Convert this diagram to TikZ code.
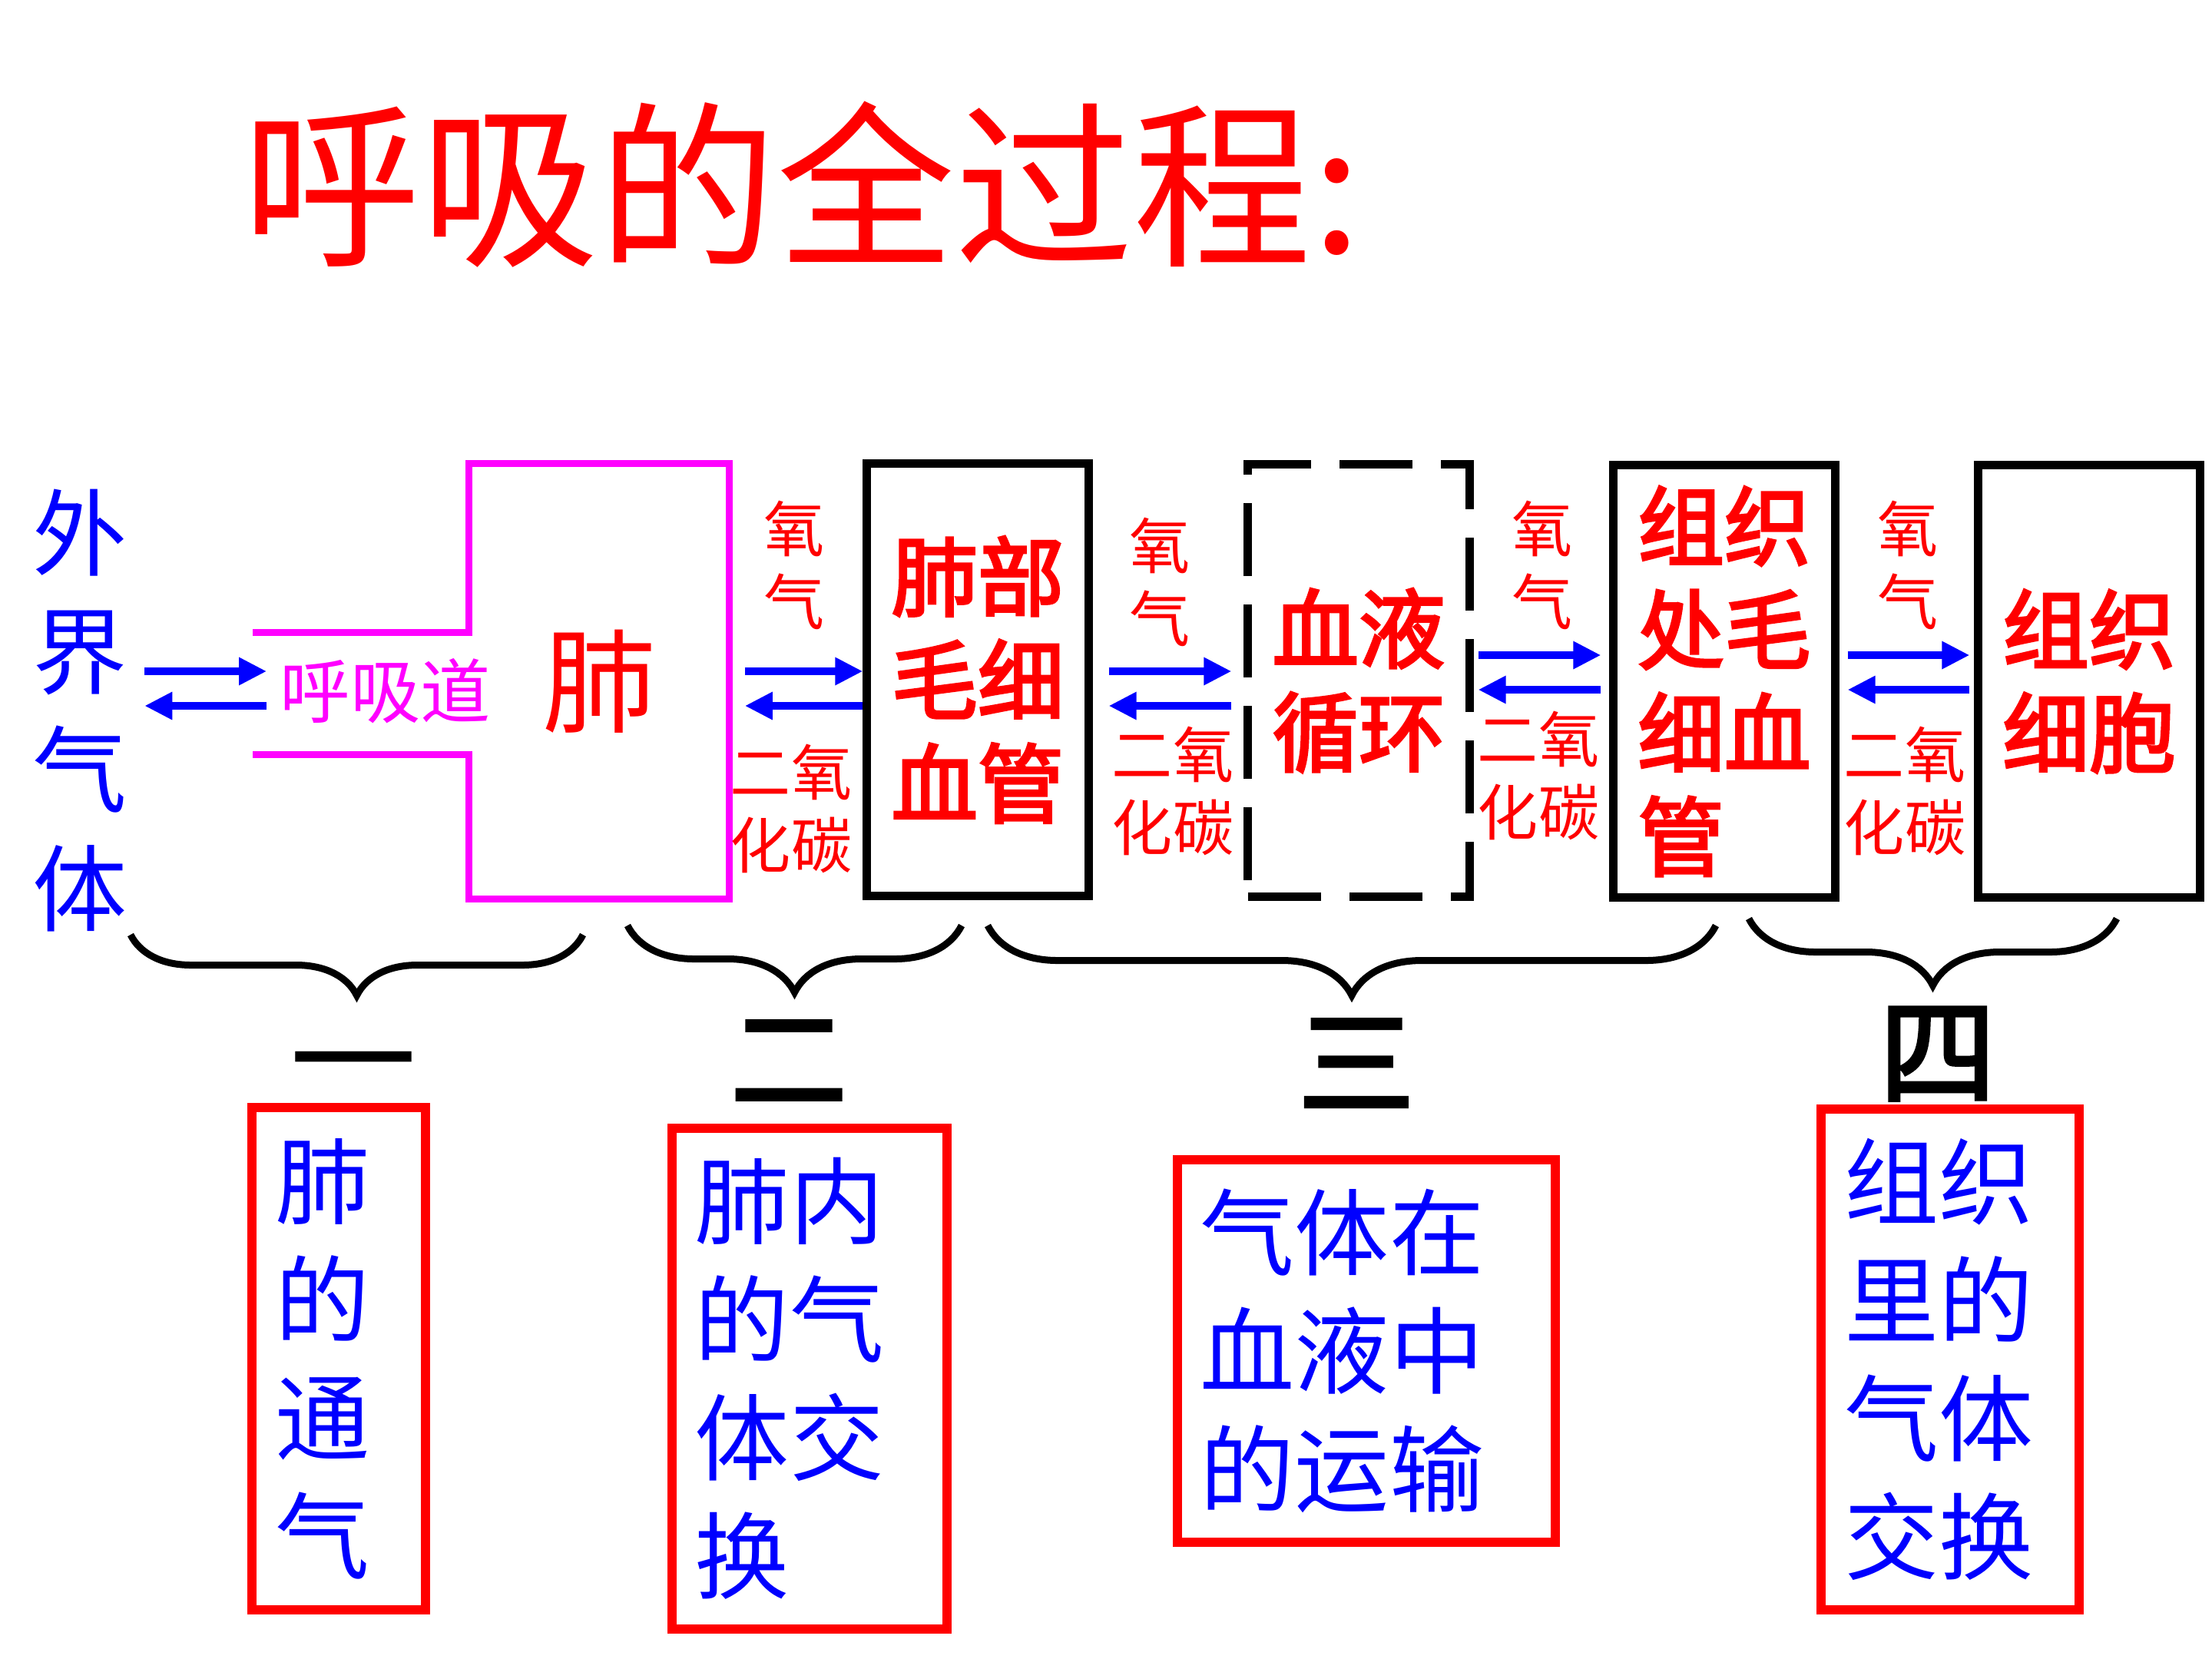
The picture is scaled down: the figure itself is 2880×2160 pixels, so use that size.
\documentclass[tikz,border=0pt]{standalone}
\usepackage{fontspec}
\setmainfont{Noto Sans CJK SC}
\newfontfamily\heavyfont{Noto Sans CJK SC}[FakeBold=3]
\usetikzlibrary{arrows.meta, calc, decorations.pathreplacing}
\definecolor{airpink}{RGB}{255,0,255}
\definecolor{gasblue}{RGB}{0,0,255}
\definecolor{labelred}{RGB}{255,0,0}

\begin{document}
\begin{tikzpicture}[
		x=0.01cm, y=-0.01cm,
		every node/.style={inner sep=0pt},
		heading/.style={text=labelred, font=\fontsize{66}{70}\selectfont},
		blue text/.style={text=gasblue, align=left, font=\fontsize{35}{43.8}\selectfont},
		gas label/.style={text=labelred, align=center, font=\fontsize{22.5}{27}\selectfont},
		cap box/.style={draw, line width=1.1mm, minimum width=2.88cm, minimum height=5.62cm, align=left, text=labelred, font=\heavyfont\fontsize{32}{38.3}\selectfont},
		blood box/.style={cap box, dash pattern=on 9.5mm off 3.7mm},
		gas arrow/.style={gasblue, line width=1.07mm, -{Triangle[length=3.6mm, width=3.4mm]}},
		airway/.style={airpink, line width=0.9mm},
		curly brace/.style={decorate, line width=0.9mm, decoration={brace, amplitude=#1}},
		stage number/.style={font=\heavyfont\fontsize{43}{43}\selectfont},
		stage box/.style={draw=labelred, line width=1.2mm, blue text, inner xsep=3mm}
		]
	
	\useasboundingbox (0,0) rectangle (2880,2160);
	
	% Heading
	\node[heading] (heading) at (1044,240) {呼吸的全过程:};
	
	% Outside air, airway and lung
	\node[blue text, align=center] (air) at (104,925) {外\\界\\气\\体};
	\node[text=airpink, font=\fontsize{26}{26}\selectfont] (tract) at (502,900) {呼吸道};
	\node[text=labelred, font=\fontsize{42}{42}\selectfont, minimum width=3.38cm, minimum height=5.65cm] (lung) at (780,887) {肺};
	\coordinate (mouth top) at (329,823);
	\coordinate (mouth bottom) at (329,982);
	\draw[airway] (mouth top) -- (mouth top -| lung.west) -- (lung.north west) -- (lung.north east)
		-- (lung.south east) -- (lung.south west) -- (mouth bottom -| lung.west) -- (mouth bottom);
	
	% Capillaries, blood and cells
	\node[cap box] (cap1) at (1273,885) {肺部\\毛细\\血管};
	\node[blood box] (blood) at (1769,886) {血液\\循环};
	\node[cap box] (cap2) at (2245,887) {组织\\处毛\\细血\\管};
	\node[cap box] (cell) at (2720,887) {组织\\细胞};
	
	% Arrow rows
	\coordinate (O2hi) at (0,874);
	\coordinate (CO2hi) at (0,919);
	\coordinate (O2lo) at (0,853);
	\coordinate (CO2lo) at (0,898);
	
	% Gas exchange arrows
	\foreach \src/\dst/\row/\ga/\gb in {air/tract/hi/22/17, lung/cap1/hi/20/0, cap1/blood/hi/21/16, blood/cap2/lo/6/11, cap2/cell/lo/11/6}{
		\draw[gas arrow] ($(\src.east |- O2\row)+(\ga,0)$) -- ($(\dst.west |- O2\row)-(\gb,0)$);
		\draw[gas arrow] ($(\dst.west |- CO2\row)-(\gb,0)$) -- ($(\src.east |- CO2\row)+(\ga,0)$);
	}
	
	% Gas labels
	\foreach \x/\y/\name in {1034/736/a, 1510/758/b, 2008/736/c, 2484/736/d}{
		\node[gas label] (o2\name) at (\x,\y) {氧\\气};
	}
	\foreach \x/\y/\name in {1030/1053/a, 1527/1030/b, 2003/1010/c, 2480/1030/d}{
		\node[gas label] (co2\name) at (\x,\y) {二氧\\化碳};
	}
	
	% Braces
	\draw[curly brace=0.79cm] (759,1217) -- (170,1217);
	\draw[curly brace=0.87cm] (1252,1205) -- (817,1205);
	\draw[curly brace=0.91cm] (2234,1205) -- (1286,1205);
	\draw[curly brace=0.87cm] (2756,1196) -- (2277,1196);
	
	% Stage numbers
	\node[font=\fontsize{47}{47}\selectfont] (stage1) at (460,1405) {一};
	\node[stage number] (stage2) at (1027,1382) {二};
	\node[stage number] (stage3) at (1766,1384) {三};
	\node[stage number] (stage4) at (2523,1372) {四};
	
	% Stage boxes
	\node[stage box, text width=1.65cm, minimum height=6.53cm] (vent) at (441,1769) {肺\\的\\通\\气};
	\node[stage box, text width=2.98cm, minimum height=6.51cm] (lungex) at (1054,1795) {肺内\\的气\\体交\\换};
	\node[stage box, text width=4.32cm, minimum height=4.98cm] (transport) at (1779,1759) {气体在\\血液中\\的运输};
	\node[stage box, text width=2.75cm, minimum height=6.52cm] (tissueex) at (2539,1770) {组织\\里的\\气体\\交换};
	
\end{tikzpicture}
\end{document}
